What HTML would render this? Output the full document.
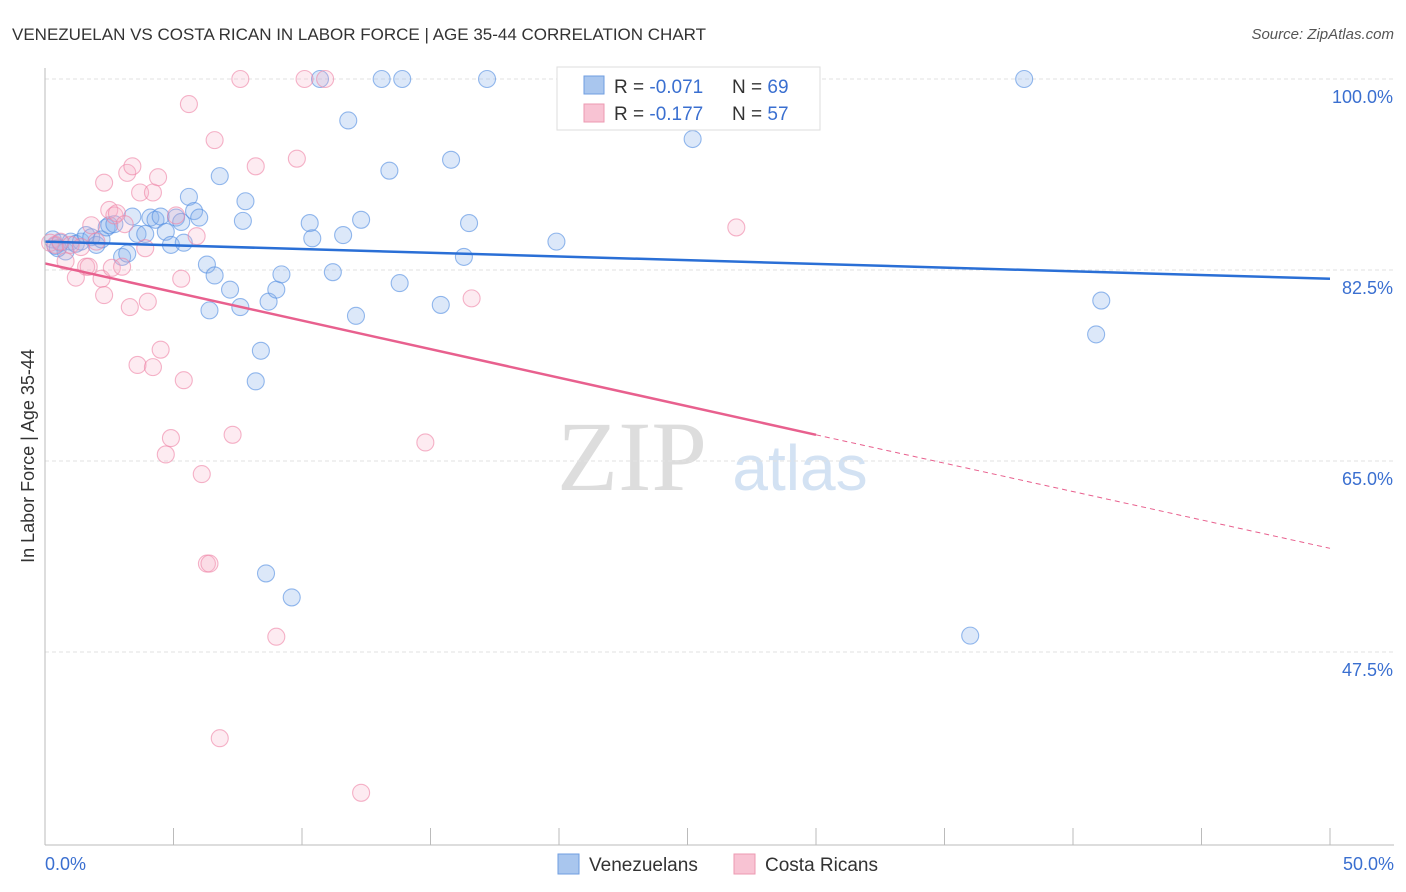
<!DOCTYPE html>
<html><head><meta charset="utf-8"><style>
body{margin:0;background:#fff;font-family:"Liberation Sans",sans-serif}
svg{display:block}
</style></head><body>
<svg id="c" width="1406" height="892">
<text x="12" y="40" font-size="17" fill="#333">VENEZUELAN VS COSTA RICAN IN LABOR FORCE | AGE 35-44 CORRELATION CHART</text>
<text x="1394" y="39" font-size="15" fill="#555" font-style="italic" text-anchor="end">Source: ZipAtlas.com</text>
<text x="632" y="490" font-size="100" fill="#ddd" font-family="Liberation Serif" text-anchor="middle">ZIP</text>
<text x="800" y="490" font-size="64" fill="#d3e2f3" text-anchor="middle">atlas</text>
<g id="grid"></g><g id="marks"></g>
<line x1="45" y1="68" x2="45" y2="845" stroke="#bbb"/>
<line x1="45" y1="845" x2="1394" y2="845" stroke="#bbb"/>
<text x="45" y="870" font-size="18" fill="#3a6fd0">0.0%</text>
<text x="1394" y="870" font-size="18" fill="#3a6fd0" text-anchor="end">50.0%</text>
<text transform="translate(34,456) rotate(-90)" font-size="18" fill="#333" text-anchor="middle">In Labor Force | Age 35-44</text>
<g>
<rect x="557" y="67" width="263" height="63" fill="#fff" stroke="#ddd"/>
<rect x="584" y="76" width="20" height="18" fill="#a9c6ee" stroke="#6f9ee0"/>
<rect x="584" y="104" width="20" height="18" fill="#f8c3d3" stroke="#ec9ab2"/>
<text x="614" y="93" font-size="19" fill="#333">R = <tspan fill="#3a6fd0">-0.071</tspan><tspan x="732">N = </tspan><tspan fill="#3a6fd0">69</tspan></text>
<text x="614" y="120" font-size="19" fill="#333">R = <tspan fill="#3a6fd0"> -0.177</tspan><tspan x="732">N = </tspan><tspan fill="#3a6fd0">57</tspan></text>
</g>
<g>
<rect x="558" y="854" width="21" height="20" fill="#a9c6ee" stroke="#6f9ee0"/>
<text x="589" y="871" font-size="19" fill="#333">Venezuelans</text>
<rect x="734" y="854" width="21" height="20" fill="#f8c3d3" stroke="#ec9ab2"/>
<text x="765" y="871" font-size="19" fill="#333">Costa Ricans</text>
</g>
</svg>
<script>
const yTicks=[100,82.5,65,47.5];
const xTicks=[0,5,10,15,20,25,30,35,40,45,50];
const venX=[0.3,0.4,0.6,0.8,1,1.2,1.4,1.6,1.8,2,2.2,2.4,2.5,2.7,3,3.2,3.4,3.6,3.9,4.1,4.3,4.5,4.7,4.9,5.1,5.3,5.4,5.6,5.8,6.0,6.3,6.4,6.6,6.8,7.2,7.6,7.7,7.8,8.2,8.4,8.6,8.7,9.0,9.2,9.6,10.3,10.4,10.7,11.2,11.6,11.8,12.1,12.3,13.1,13.4,13.8,13.9,15.4,15.8,16.3,16.5,17.2,19.9,25.2,36.0,38.1,40.9,41.1,0.5];
const venY=[85.3,84.7,85.0,84.2,85.1,84.9,85.1,85.7,85.5,84.8,85.3,86.4,86.6,86.7,83.7,84.0,87.4,85.8,85.8,87.3,87.1,87.4,86.0,84.8,87.3,86.9,85.0,89.2,87.9,87.3,83.0,78.8,82.0,91.1,80.7,79.1,87.0,88.8,72.3,75.1,54.7,79.6,80.7,82.1,52.5,86.8,85.4,100,82.3,85.7,96.2,78.3,87.1,100,91.6,81.3,100,79.3,92.6,83.7,86.8,100,85.1,94.5,49.0,100,76.6,79.7,84.5];
const crX=[0.2,0.4,0.6,0.8,1,1.2,1.4,1.6,1.7,1.8,2,2.2,2.3,2.3,2.5,2.6,2.7,2.8,3,3.1,3.2,3.3,3.4,3.6,3.7,3.9,4.0,4.2,4.2,4.4,4.5,4.7,4.9,5.1,5.3,5.4,5.6,5.9,6.1,6.3,6.4,6.6,6.8,7.3,7.6,8.2,9.0,9.8,10.1,10.9,12.3,14.8,16.6,26.9];
const crY=[85.0,84.8,85.1,83.3,84.8,81.8,84.6,82.8,82.8,86.6,85.1,81.7,80.2,90.5,88.0,82.7,87.5,87.7,82.8,86.7,91.4,79.1,92.0,73.8,89.6,84.5,79.6,89.6,73.6,91.0,75.2,65.6,67.1,87.5,81.7,72.4,97.7,85.6,63.8,55.6,55.6,94.4,39.6,67.4,100,92.0,48.9,92.7,100,100,34.6,66.7,79.9,86.4];
const venLine=[85.1,81.7];
const crLine=[83.1,67.4,57.0];
const X=v=>45+v/50*1285, Y=v=>79+(100-v)/17.5*191;
const NS='http://www.w3.org/2000/svg';
const g=document.getElementById('grid'),m=document.getElementById('marks');
function mk(p,tag,a){const e=document.createElementNS(NS,tag);for(const k in a)e.setAttribute(k,a[k]);p.appendChild(e);return e;}
yTicks.forEach(t=>{
 const l=mk(g,'line',{x1:45,x2:1394,y1:Y(t),y2:Y(t),stroke:'#e2e2e2','stroke-dasharray':'4,3'});
 
 
 const tx=mk(g,'text',{x:1393,y:Y(t)+24,'font-size':18,fill:'#3a6fd0','text-anchor':'end'});
 tx.textContent=t.toFixed(1)+'%';
 
 
});
xTicks.forEach(t=>{
 const l=mk(g,'line',{x1:X(t),x2:X(t),y1:828,y2:845,stroke:'#bbb'});
 
 
});
venX.forEach((v,i)=>{
 const c=mk(m,'circle',{cx:X(v),cy:Y(venY[i]),r:8.5,fill:'rgba(140,180,235,0.3)',stroke:'rgba(80,140,225,0.6)','stroke-width':1.1});
 
 
});
crX.forEach((v,i)=>{
 const c=mk(m,'circle',{cx:X(v),cy:Y(crY[i]),r:8.5,fill:'rgba(248,175,198,0.25)',stroke:'rgba(238,130,165,0.6)','stroke-width':1.1});
 
 
});
const bl=mk(m,'line',{x1:X(0),y1:Y(venLine[0]),x2:X(50),y2:Y(venLine[1]),stroke:'#2a6fd6','stroke-width':2.5});


const pl=mk(m,'line',{x1:X(0),y1:Y(crLine[0]),x2:X(30),y2:Y(crLine[1]),stroke:'#e8608e','stroke-width':2.5});


const pd=mk(m,'line',{x1:X(30),y1:Y(crLine[1]),x2:X(50),y2:Y(crLine[2]),stroke:'#e8608e','stroke-width':1,'stroke-dasharray':'5,4'});


</script>
</body></html>
